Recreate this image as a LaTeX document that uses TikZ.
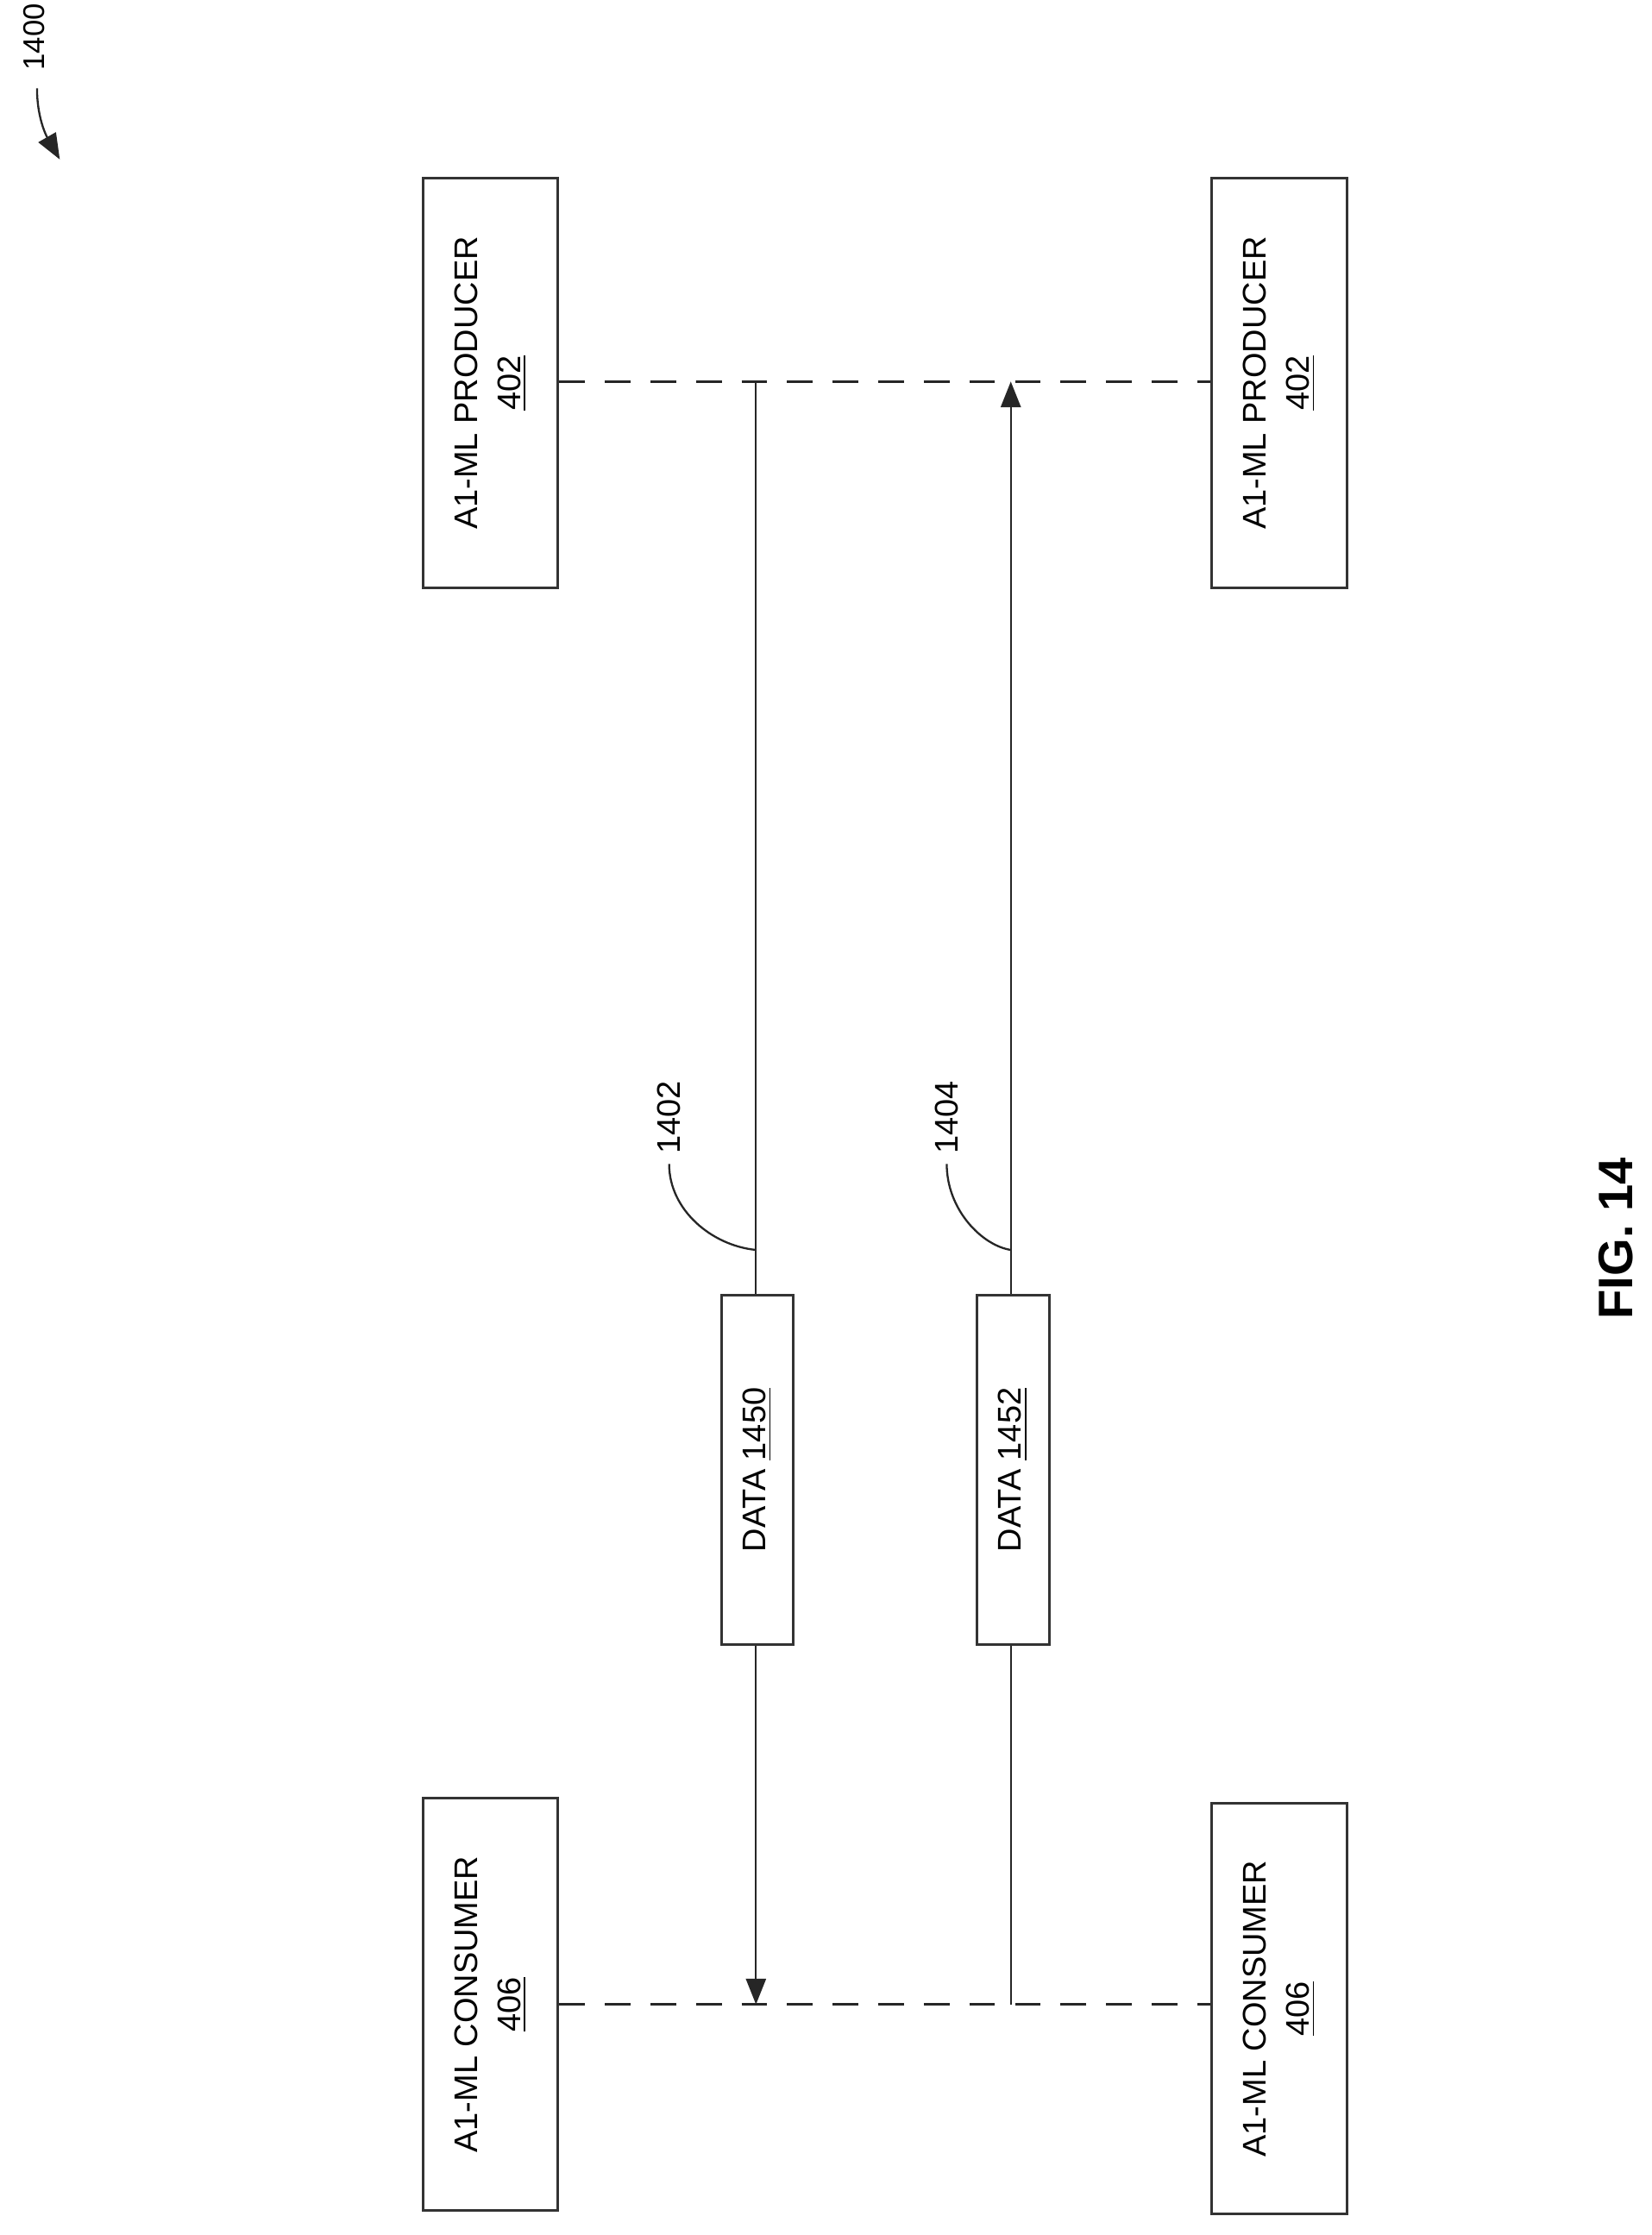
\documentclass[tikz,border=0pt]{standalone}
\usepackage{fontspec}
\setmainfont{Liberation Sans}
\usetikzlibrary{arrows.meta}
\begin{document}
\begin{tikzpicture}[x=0.5pt,y=-0.5pt,
  box/.style={draw=black!80,line width=0.9pt,inner sep=0pt},
  txt/.style={rotate=90,align=center,font=\fontsize{11.5}{15}\selectfont},
  dsh/.style={draw=black!85,line width=0.9pt,dash pattern=on 9pt off 7pt},
  ln/.style={draw=black!85,line width=0.7pt},
  arr/.style={ln,-{Triangle[length=9pt,width=7pt]}}]
\useasboundingbox (0,0) rectangle (1160,1570);
\node[box,minimum width=47.5pt,minimum height=144pt] (p1) at (344.5,269) {};
\node[txt] at (p1) {A1-ML PRODUCER\\\underline{402}};
\node[box,minimum width=47.5pt,minimum height=144pt] (p2) at (898.5,269) {};
\node[txt] at (p2) {A1-ML PRODUCER\\\underline{402}};
\node[box,minimum width=47.5pt,minimum height=145pt] (c1) at (344.5,1408) {};
\node[txt] at (c1) {A1-ML CONSUMER\\\underline{406}};
\node[box,minimum width=47.5pt,minimum height=144pt] (c2) at (898.5,1411) {};
\node[txt] at (c2) {A1-ML CONSUMER\\\underline{406}};
\node[box,minimum width=25pt,minimum height=122.5pt] (d1) at (532,1032.5) {};
\node[txt] at (d1) {DATA \underline{1450}};
\node[box,minimum width=25.5pt,minimum height=122.5pt] (d2) at (711.5,1032.5) {};
\node[txt] at (d2) {DATA \underline{1452}};
\coordinate (t1) at (531,268);
\coordinate (t2) at (710,268);
\coordinate (b1) at (531,1408);
\coordinate (b2) at (710,1408);
\draw[dsh] (p1.east |- t1) -- (p2.west |- t1);
\draw[dsh] (c1.east |- b1) -- (c2.west |- b1);
\draw[ln] (t1) -- (d1.north -| t1);
\draw[arr] (d1.south -| b1) -- (b1);
\draw[ln] (b2) -- (d2.south -| b2);
\draw[arr] (d2.north -| t2) -- (t2);
\node[rotate=90,font=\fontsize{11.5}{14}\selectfont] (l1) at (470,785) {1402};
\node[rotate=90,font=\fontsize{11.5}{14}\selectfont] (l2) at (665,785) {1404};
\coordinate (m1) at (531,878);
\coordinate (m2) at (710,878);
\draw[ln] (l1.west) .. controls (470,850) and (500,875) .. (m1);
\draw[ln] (l2.west) .. controls (665,850) and (690,875) .. (m2);
\node[rotate=90,font=\fontsize{10.5}{13}\selectfont] (l0) at (24,26) {1400};
\coordinate (a0) at (42,112);
\draw[ln,-{Triangle[length=9pt,width=7pt]}] (26,62) .. controls (26,85) and (34,98) .. (a0);
\node[rotate=90,font=\bfseries\fontsize{17}{20}\selectfont] (fig) at (1135,870) {FIG. 14};
\end{tikzpicture}
\end{document}
